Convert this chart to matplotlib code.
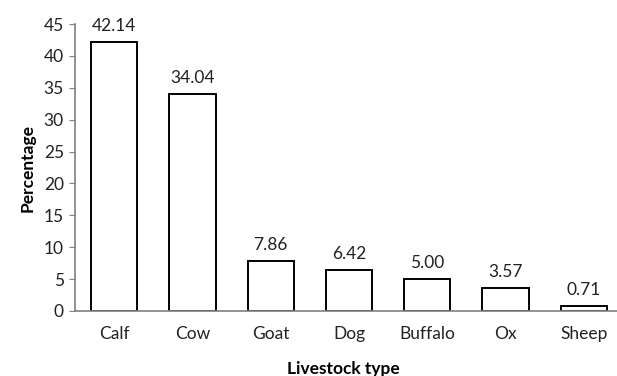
import matplotlib.pyplot as plt

livestock = ['Calf', 'Cow', 'Goat', 'Dog', 'Buffalo', 'Ox', 'Sheep']
percentage = [42.14, 34.04, 7.86, 6.42, 5.00, 3.57, 0.71]

plt.rcParams['font.family'] = ['Lato', 'DejaVu Sans']

fig = plt.figure(figsize=(6.17, 3.76), dpi=100)
ax = fig.add_axes([0.1216, 0.173, 0.888, 0.763])

x = range(len(livestock))
bars = ax.bar(x, percentage, width=0.59, color='white', edgecolor='black', linewidth=1.4)

# value labels above each bar
for b, v in zip(bars, percentage):
    ax.annotate(f'{v:.2f}', (b.get_x() + b.get_width() / 2, v),
                xytext=(0, 6), textcoords='offset points',
                ha='center', va='bottom', fontsize=12.5, color='#222222')

ax.set_xlim(-0.5, 6.5)
ax.set_ylim(0, 45)
ax.set_yticks(range(0, 46, 5))
ax.set_xticks(list(x))
ax.set_xticklabels(livestock)

for s in ['top', 'right']:
    ax.spines[s].set_visible(False)
for s in ['left', 'bottom']:
    ax.spines[s].set_color('#808080')
    ax.spines[s].set_linewidth(1.2)

ax.tick_params(axis='y', direction='out', length=4, color='#808080', labelsize=12.5, pad=4,
               labelcolor='#222222')
ax.tick_params(axis='x', length=0, labelsize=12.5, pad=11, labelcolor='#222222')

ax.set_ylabel('Percentage', fontweight='bold', fontsize=12.5, labelpad=6)
ax.set_xlabel('Livestock type', fontweight='bold', fontsize=12.5)
ax.xaxis.set_label_coords(0.49, -0.175)

fig.savefig('out.png', dpi=100)
